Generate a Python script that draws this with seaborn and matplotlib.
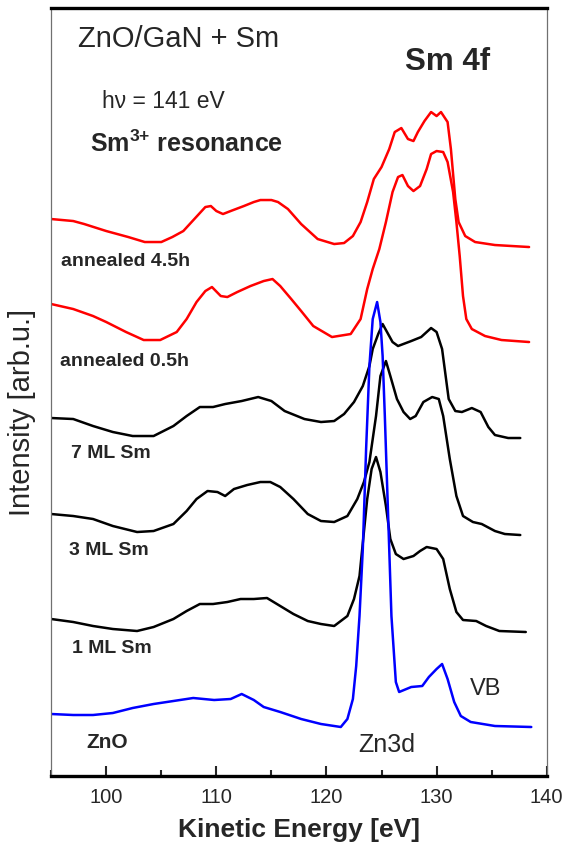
import pandas as pd
import matplotlib
matplotlib.use("Agg")
import matplotlib.pyplot as plt
import seaborn as sns
from matplotlib.ticker import MultipleLocator

# --- spectra (kinetic energy in eV, intensity in arb.u.) ---
E_ann45 = [95, 97, 98, 100, 102, 103.5, 105, 106, 107, 108, 109, 109.5, 110, 110.6, 111.3,
           112.5, 113.4, 114, 115, 115.6, 116.5, 117.7, 119.2, 120.7, 121.6, 122.4, 123.1,
           123.7, 124.3, 125, 125.7, 126.2, 126.8, 127.4, 127.9, 128.3, 128.9, 129.5, 130,
           130.4, 131, 131.3, 131.7, 132, 132.6, 133.5, 135.3, 138.4]
I_ann45 = [55.7, 55.5, 55.2, 54.5, 53.9, 53.4, 53.4, 53.9, 54.5, 55.7, 56.9, 57.0, 56.5, 56.2,
           56.5, 57.0, 57.4, 57.6, 57.6, 57.4, 56.7, 55.2, 53.7, 53.2, 53.3, 54.0, 55.4, 57.4,
           59.7, 60.9, 62.7, 64.4, 64.8, 63.7, 63.5, 64.4, 65.5, 66.4, 66.0, 66.4, 65.4, 62.7,
           57.7, 55.4, 54.0, 53.4, 53.1, 52.9]

E_ann05 = [95, 97, 98.8, 100, 101.8, 103.4, 104.9, 106.4, 107.3, 108.2, 109, 109.6, 110.4, 111,
           111.9, 113.1, 114.3, 115.1, 115.8, 116.8, 117.7, 118.8, 120.5, 122.2, 123.1, 123.7,
           124.2, 124.8, 125.4, 126, 126.5, 126.9, 127.4, 127.9, 128.5, 129.1, 129.5, 130,
           130.6, 131, 131.5, 131.8, 132.1, 132.4, 132.7, 133.2, 134.4, 135.9, 138.4]
I_ann05 = [47.2, 46.7, 46.0, 45.4, 44.4, 43.6, 43.6, 44.4, 45.7, 47.4, 48.5, 48.9, 48.0, 47.9,
           48.4, 49.0, 49.5, 49.7, 49.0, 47.7, 46.5, 45.0, 43.9, 44.2, 45.7, 48.7, 50.7, 52.7,
           55.4, 58.4, 59.9, 60.1, 59.0, 58.5, 59.0, 60.7, 62.2, 62.5, 62.4, 61.4, 58.4, 55.4,
           52.0, 48.0, 45.7, 44.7, 44.0, 43.6, 43.4]

E_7ml = [95, 97, 98.8, 100.6, 102.4, 104.3, 106.1, 107.3, 108.5, 109.7, 110.8, 112.3, 113.8,
         115, 116.2, 118, 119.5, 120.7, 121.6, 122.5, 123.3, 123.9, 124.2, 124.7, 125.1, 125.6,
         126, 126.5, 127.7, 128.6, 129.5, 130, 130.5, 131.1, 131.7, 132.3, 133.2, 134, 134.7,
         135.3, 136.5, 137.6]
I_7ml = [35.8, 35.7, 35.0, 34.4, 34.0, 34.0, 35.0, 36.0, 36.9, 36.9, 37.2, 37.5, 37.9, 37.5,
         36.5, 35.7, 35.4, 35.5, 36.2, 37.4, 39.0, 41.0, 42.7, 44.2, 45.2, 44.2, 43.4, 43.0,
         43.5, 43.9, 44.8, 44.4, 42.7, 37.7, 36.5, 36.4, 36.8, 36.4, 34.9, 34.1, 33.8, 33.8]

E_3ml = [95, 97, 98.8, 100.6, 102.8, 104.3, 106.1, 107.3, 108.2, 109.2, 110.1, 110.8, 111.6,
         112.8, 114, 114.9, 115.8, 117, 118.3, 119.5, 120.7, 121.9, 122.8, 123.4, 123.9, 124.5,
         124.9, 125.4, 125.8, 126.4, 127, 127.6, 128.1, 128.8, 129.6, 130.2, 130.6, 131.2,
         131.8, 132.4, 133.3, 134.1, 135.3, 136.2, 137.6]
I_3ml = [26.2, 26.0, 25.7, 25.0, 24.4, 24.5, 25.2, 26.5, 27.7, 28.5, 28.4, 28.0, 28.7, 29.1,
         29.4, 29.4, 28.9, 27.7, 26.2, 25.5, 25.4, 26.0, 27.7, 29.4, 31.4, 36.0, 40.0, 41.5,
         40.0, 37.7, 36.4, 35.7, 36.0, 37.4, 37.9, 37.7, 36.0, 31.7, 28.0, 26.0, 25.4, 25.2,
         24.5, 24.2, 24.1]

E_1ml = [95, 97, 98.8, 100.6, 102.8, 104.3, 106.1, 107.3, 108.5, 109.7, 111, 112.2, 113.4,
         114.6, 115.8, 117, 118.3, 119.5, 120.7, 121.9, 122.5, 123, 123.4, 123.7, 124.1, 124.5,
         124.9, 125.4, 125.8, 126.3, 127, 127.9, 128.5, 129.1, 130, 130.6, 131.2, 131.8, 132.4,
         133.6, 134.5, 135.7, 138.1]
I_1ml = [15.7, 15.4, 15.0, 14.7, 14.5, 14.9, 15.7, 16.5, 17.2, 17.2, 17.4, 17.7, 17.7, 17.8,
         17.0, 16.2, 15.5, 15.2, 15.0, 16.0, 17.7, 20.0, 24.4, 27.7, 30.7, 31.9, 30.4, 27.0,
         23.7, 22.2, 21.7, 22.0, 22.5, 22.9, 22.7, 21.7, 18.7, 16.4, 15.6, 15.5, 15.0, 14.5,
         14.4]

E_zno = [95, 97, 98.8, 100.6, 102.4, 104.3, 106.1, 107.9, 109.8, 111.3, 112.3, 113.4, 114.3,
         115.8, 117.7, 119.5, 121.3, 121.9, 122.4, 122.7, 123, 123.3, 123.6, 123.9, 124.2,
         124.6, 124.9, 125.1, 125.3, 125.6, 125.9, 126.3, 126.6, 127.7, 128.7, 129.3, 130,
         130.5, 131, 131.6, 132.2, 133.1, 135.3, 138.6]
I_zno = [6.2, 6.1, 6.1, 6.3, 6.8, 7.2, 7.5, 7.8, 7.6, 7.7, 8.2, 7.6, 6.9, 6.4, 5.7, 5.2, 4.9,
         5.7, 7.7, 11.0, 16.0, 22.7, 32.7, 41.0, 45.7, 47.4, 45.4, 42.0, 36.0, 26.0, 16.0, 9.4,
         8.4, 8.9, 9.0, 9.9, 10.7, 11.2, 9.7, 7.4, 6.0, 5.4, 5.0, 4.9]

samples = ["annealed 4.5h", "annealed 0.5h", "7 ML Sm", "3 ML Sm", "1 ML Sm", "ZnO"]
energies = [E_ann45, E_ann05, E_7ml, E_3ml, E_1ml, E_zno]
intensities = [I_ann45, I_ann05, I_7ml, I_3ml, I_1ml, I_zno]
colors = ["#ff0000", "#ff0000", "black", "black", "black", "#0000ff"]

frames = []
for name, e, i in zip(samples, energies, intensities):
    frames.append(pd.DataFrame({"energy": e, "intensity": i, "sample": name}))
df = pd.concat(frames, ignore_index=True)

sns.set_style("white")
plt.rcParams["font.family"] = ["Liberation Sans", "DejaVu Sans"]
plt.rcParams["mathtext.fontset"] = "custom"
plt.rcParams["mathtext.rm"] = "Liberation Sans"
plt.rcParams["mathtext.bf"] = "Liberation Sans:bold"

fig = plt.figure(figsize=(5.65, 8.53), dpi=100)
ax = fig.add_axes([0.0906, 0.0891, 0.8770, 0.9003])

sns.lineplot(data=df, x="energy", y="intensity", hue="sample", hue_order=samples,
             palette=dict(zip(samples, colors)), estimator=None, sort=False,
             linewidth=1.8, legend=False, ax=ax)

ax.set_xlim(95, 140)
ax.set_ylim(0, 76.8)
ax.xaxis.set_major_locator(MultipleLocator(10))
ax.xaxis.set_minor_locator(MultipleLocator(5))
ax.set_yticks([])
ax.tick_params(axis="x", which="major", direction="in", length=7.5, width=1.5,
               labelsize=14.5, pad=8, bottom=True, top=False)
ax.tick_params(axis="x", which="minor", direction="in", length=4, width=1.5,
               bottom=True, top=False)

for side in ["top", "bottom"]:
    ax.spines[side].set_linewidth(2.4)
    ax.spines[side].set_color("black")
for side in ["left", "right"]:
    ax.spines[side].set_linewidth(0.9)
    ax.spines[side].set_color("#707070")

ax.set_xlabel("Kinetic Energy [eV]", fontsize=19, fontweight="bold", labelpad=8)
ax.set_ylabel("")
fig.text(0.039, 0.517, "Intensity [arb.u.]", fontsize=21, rotation=90,
         ha="center", va="center")

# annotations
ax.text(97.4, 73.0, "ZnO/GaN + Sm", fontsize=21, va="baseline")
ax.text(127.1, 70.7, "Sm 4f", fontsize=22.5, fontweight="bold", va="baseline")
ax.text(99.6, 66.9, "h\u03bd = 141 eV", fontsize=16.5, va="baseline")
ax.text(98.5, 62.5, r"Sm$^{\mathbf{3{+}}}$ resonance", fontsize=18, fontweight="bold", va="baseline")

label_pos = [(95.85, 51.1), (95.8, 41.1), (96.8, 31.9), (96.65, 22.2), (96.9, 12.4)]
for name, (lx, ly) in zip(samples[:5], label_pos):
    ax.text(lx, ly, name, fontsize=14, fontweight="bold", va="baseline")
ax.text(98.2, 2.9, "ZnO", fontsize=15, fontweight="bold", va="baseline")
ax.text(122.9, 2.5, "Zn3d", fontsize=18, va="baseline")
ax.text(133.0, 8.2, "VB", fontsize=17, va="baseline")

fig.savefig("out.png", dpi=100)
